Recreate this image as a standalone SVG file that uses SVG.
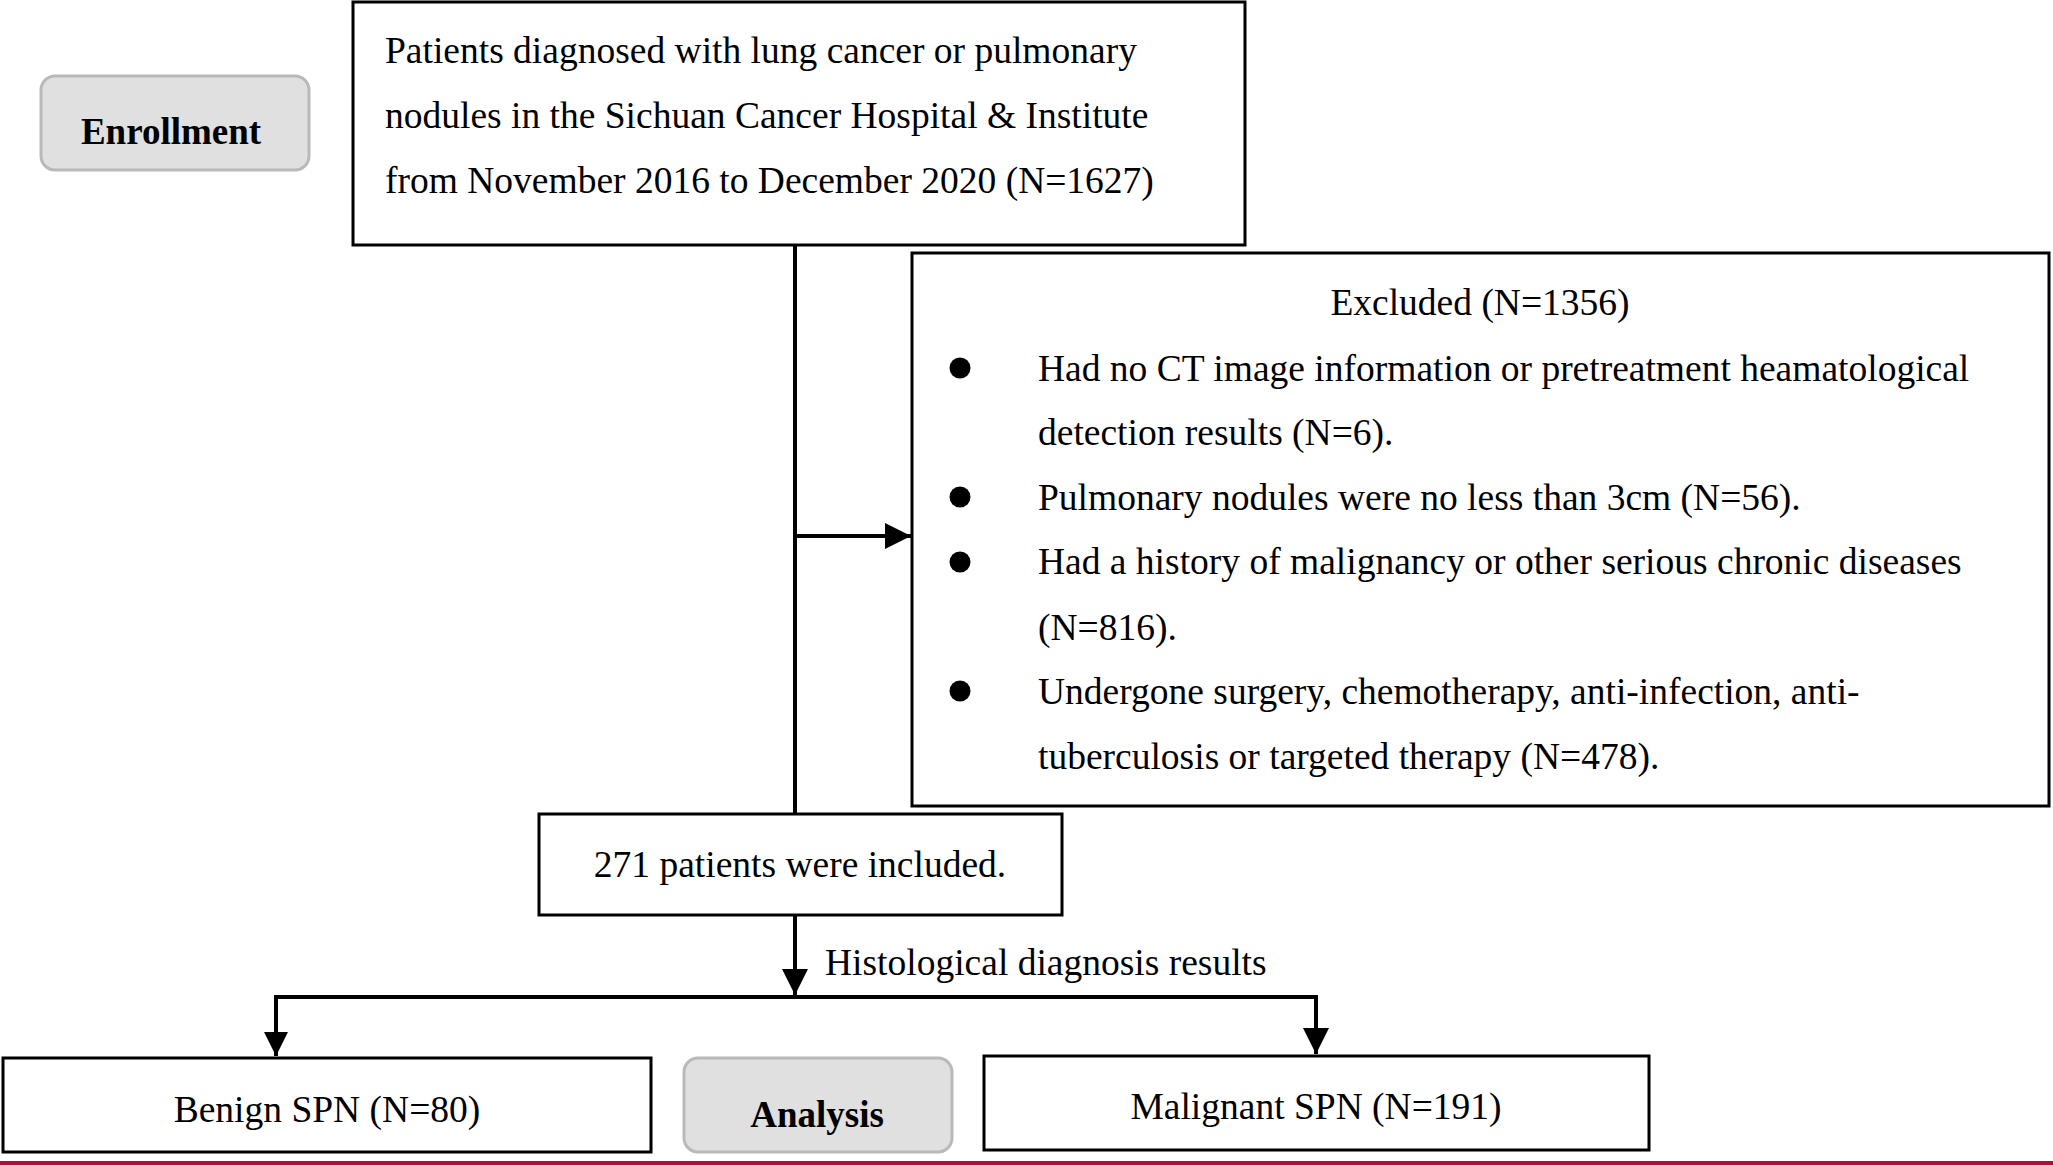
<svg xmlns="http://www.w3.org/2000/svg" width="2053" height="1165" viewBox="0 0 2053 1165">
<style>
  .t { font-family: "Liberation Serif", "Times New Roman", serif; font-size: 37.5px; fill: #000; }
  .b { font-family: "Liberation Serif", "Times New Roman", serif; font-size: 37px; font-weight: bold; fill: #000; }
  .box { fill: #fff; stroke: #000; stroke-width: 3; }
  .tag { fill: #e0e0e0; stroke: #b9b9b9; stroke-width: 3; }
  .con { fill: none; stroke: #000; stroke-width: 4; }
</style>
<defs>
  <marker id="ah" markerUnits="userSpaceOnUse" markerWidth="26" markerHeight="26" viewBox="0 0 24 24" refX="24" refY="12" orient="auto">
    <path d="M0,0 L24,12 L0,24 Z" fill="#000"/>
  </marker>
</defs>
<rect x="0" y="0" width="2053" height="1165" fill="#fff"/>

<g id="enrollment">
  <rect class="tag" x="41" y="76" width="268" height="94" rx="14"/>
  <text class="b" x="171" y="144" text-anchor="middle">Enrollment</text>
</g>

<g id="patients">
  <rect class="box" x="353" y="2" width="892" height="243"/>
  <text class="t" x="385" y="63">Patients diagnosed with lung cancer or pulmonary</text>
  <text class="t" x="385" y="128">nodules in the Sichuan Cancer Hospital &amp; Institute</text>
  <text class="t" x="385" y="193">from November 2016 to December 2020 (N=1627)</text>
</g>

<g id="excluded">
  <rect class="box" x="912" y="253" width="1137" height="553"/>
  <text class="t" x="1480" y="315" text-anchor="middle">Excluded (N=1356)</text>
  <circle cx="960" cy="368" r="10.5"/>
  <circle cx="960" cy="497" r="10.5"/>
  <circle cx="960" cy="562" r="10.5"/>
  <circle cx="960" cy="691" r="10.5"/>
  <text class="t" x="1038" y="381">Had no CT image information or pretreatment heamatological</text>
  <text class="t" x="1038" y="445">detection results (N=6).</text>
  <text class="t" x="1038" y="510">Pulmonary nodules were no less than 3cm (N=56).</text>
  <text class="t" x="1038" y="574">Had a history of malignancy or other serious chronic diseases</text>
  <text class="t" x="1038" y="640">(N=816).</text>
  <text class="t" x="1038" y="704">Undergone surgery, chemotherapy, anti-infection, anti-</text>
  <text class="t" x="1038" y="769">tuberculosis or targeted therapy (N=478).</text>
</g>

<g id="included">
  <rect class="box" x="539" y="814" width="523" height="101"/>
  <text class="t" x="800" y="877" text-anchor="middle">271 patients were included.</text>
</g>

<g id="benign">
  <rect class="box" x="3" y="1058" width="648" height="94"/>
  <text class="t" x="327" y="1122" text-anchor="middle">Benign SPN (N=80)</text>
</g>

<g id="analysis">
  <rect class="tag" x="684" y="1058" width="268" height="94" rx="14"/>
  <text class="b" x="817" y="1127" text-anchor="middle">Analysis</text>
</g>

<g id="malignant">
  <rect class="box" x="984" y="1056" width="665" height="94"/>
  <text class="t" x="1316" y="1119" text-anchor="middle">Malignant SPN (N=191)</text>
</g>

<g id="connectors">
  <line class="con" x1="795" y1="245" x2="795" y2="814"/>
  <line class="con" x1="795" y1="536" x2="911" y2="536" marker-end="url(#ah)"/>
  <line class="con" x1="795" y1="915" x2="795" y2="995" marker-end="url(#ah)"/>
  <polyline class="con" points="276,1056 276,997 1316,997 1316,1054" marker-end="url(#ah)"/>
  <path d="M264,1032 L288,1032 L276,1056 Z" fill="#000"/>
  <text class="t" x="825" y="975">Histological diagnosis results</text>
</g>

<rect x="0" y="1161" width="2053" height="4" fill="#a8103a"/>
</svg>
